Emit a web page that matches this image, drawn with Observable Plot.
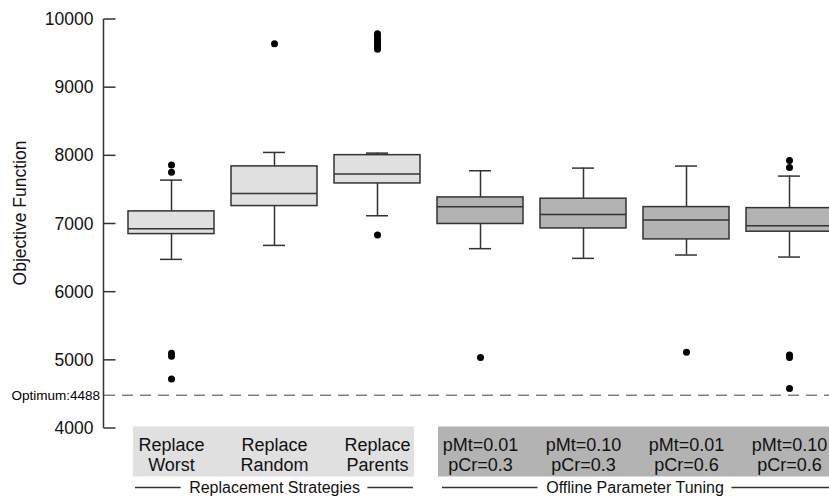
<!DOCTYPE html>
<html>
<head>
<meta charset="utf-8">
<script src="https://cdn.jsdelivr.net/npm/d3@7"></script>
<script src="https://cdn.jsdelivr.net/npm/@observablehq/plot@0.6"></script>
<style>
  html, body { margin: 0; padding: 0; background: #fff; }
</style>
</head>
<body>
<div id="chart"></div>
<script>
// ---- data ----
const categories = ["Replace\nWorst", "Replace\nRandom", "Replace\nParents",
  "pMt=0.01\npCr=0.3", "pMt=0.10\npCr=0.3", "pMt=0.01\npCr=0.6", "pMt=0.10\npCr=0.6"];
const groups = ["Replacement Strategies", "Replacement Strategies", "Replacement Strategies",
  "Offline Parameter Tuning", "Offline Parameter Tuning", "Offline Parameter Tuning", "Offline Parameter Tuning"];
const lowerWhisker = [6481, 6686, 7121, 6638, 6496, 6545, 6515];
const q1 = [6852, 7263, 7595, 7000, 6935, 6774, 6887];
const median = [6931, 7449, 7732, 7254, 7141, 7057, 6975];
const q3 = [7185, 7845, 8010, 7390, 7371, 7248, 7233];
const upperWhisker = [7644, 8050, 8040, 7781, 7820, 7850, 7703];
const outliers = [
  [7864, 7761, 5103, 5059, 4726],
  [9644],
  [9790, 9755, 9715, 9680, 9640, 9600, 9565, 6837],
  [5040],
  [],
  [5117],
  [7933, 7830, 5078, 5040, 4585]
];
const yTicks = [4000, 5000, 6000, 7000, 8000, 9000, 10000];
const optimum = 4488;
const optimumLabel = "Optimum:4488";
const yLabel = "Objective Function";

// ---- derived tables ----
const stats = categories.map((c, i) => ({
  name: c, group: groups[i], lo: lowerWhisker[i], q1: q1[i], med: median[i], q3: q3[i], hi: upperWhisker[i]
}));
const outlierRows = outliers.flatMap((vals, i) => vals.map(v => ({name: categories[i], value: v})));
const groupNames = Array.from(new Set(groups));

const FONT = "Liberation Sans, Arial, Helvetica, sans-serif";
const LIGHT = "#e0e0e0", DARK = "#b3b3b3", INK = "#333";
const groupFill = {"Replacement Strategies": LIGHT, "Offline Parameter Tuning": DARK};

const ns = "http://www.w3.org/2000/svg";
const measure = document.createElement("canvas").getContext("2d");

function bandwidthOf(x) { return typeof x.bandwidth === "function" ? x.bandwidth() : x.bandwidth; }

// strips behind category labels
function strips(index, scales) {
  const x = scales.x, y = scales.y, bw = bandwidthOf(x);
  const g = document.createElementNS(ns, "g");
  const y0 = y(yTicks[0]);
  groupNames.forEach((gr, k) => {
    const cats = categories.filter((c, i) => groups[i] === gr);
    const x1 = x(cats[0]) + (k === 0 ? 5 : 1);
    const x2 = x(cats[cats.length - 1]) + bw + (k === 0 ? -6 : 20);
    const r = document.createElementNS(ns, "rect");
    r.setAttribute("x", x1); r.setAttribute("width", x2 - x1);
    r.setAttribute("y", y0 - 1.5); r.setAttribute("height", 50);
    r.setAttribute("fill", groupFill[gr]);
    g.appendChild(r);
  });
  return g;
}

// axis line, ticks, group rules
function axisAndRules(index, scales, values, dimensions) {
  const x = scales.x, y = scales.y, bw = bandwidthOf(x);
  const g = document.createElementNS(ns, "g");
  g.setAttribute("stroke", INK);
  g.setAttribute("stroke-width", 1.5);
  g.setAttribute("fill", "none");
  const ax = dimensions.marginLeft - 0.5;
  const line = (x1, y1, x2, y2) => {
    const l = document.createElementNS(ns, "line");
    l.setAttribute("x1", x1); l.setAttribute("y1", y1);
    l.setAttribute("x2", x2); l.setAttribute("y2", y2);
    g.appendChild(l);
  };
  line(ax, y(yTicks[yTicks.length - 1]), ax, y(yTicks[0]));
  yTicks.forEach(t => line(ax, y(t), ax + 12, y(t)));
  // group rules
  measure.font = "16px " + FONT;
  const ly = y(yTicks[0]) + 59.5;
  groupNames.forEach((gr, k) => {
    const cats = categories.filter((c, i) => groups[i] === gr);
    const left = x(cats[0]) + (k === 0 ? 7 : 5);
    const right = x(cats[cats.length - 1]) + bw + (k === 0 ? -7 : 37);
    const mid = (x(cats[0]) + x(cats[cats.length - 1]) + bw) / 2;
    const half = measure.measureText(gr).width / 2 + 8;
    line(left, ly, mid - half, ly);
    line(mid + half, ly, right, ly);
  });
  return g;
}

const step = 103;
const chart = Plot.plot({
  width: 829,
  height: 496,
  marginLeft: 104,
  marginRight: 0,
  marginTop: 19,
  marginBottom: 68,
  style: {fontFamily: FONT, background: "#fff", color: "#000"},
  x: {type: "band", domain: categories, range: [171 - step / 2, 171 + step * 6.5], paddingInner: 0.165, paddingOuter: 0.0825, axis: null},
  y: {domain: [4000, 10000], axis: null},
  marks: [
    strips,
    Plot.ruleY([optimum], {stroke: "#808080", strokeWidth: 1.3, strokeDasharray: "11,7"}),
    Plot.text([optimumLabel], {y: () => optimum, frameAnchor: "left", textAnchor: "end", dx: -4.5, fontSize: 13.5, fill: "#000"}),
    Plot.ruleX(stats, {x: "name", y1: "hi", y2: "q3", stroke: INK, strokeWidth: 1.5}),
    Plot.ruleX(stats, {x: "name", y1: "lo", y2: "q1", stroke: INK, strokeWidth: 1.5}),
    Plot.tickY(stats, {x: "name", y: "hi", stroke: INK, strokeWidth: 1.5, insetLeft: 32, insetRight: 32}),
    Plot.tickY(stats, {x: "name", y: "lo", stroke: INK, strokeWidth: 1.5, insetLeft: 32, insetRight: 32}),
    Plot.barY(stats, {x: "name", y1: "q1", y2: "q3", fill: d => groupFill[d.group], stroke: INK, strokeWidth: 1.5}),
    Plot.tickY(stats, {x: "name", y: "med", stroke: INK, strokeWidth: 1.5}),
    Plot.dot(outlierRows, {x: "name", y: "value", r: 3.5, fill: "#000", stroke: "none"}),
    axisAndRules,
    Plot.axisY({ticks: yTicks, tickSize: 0, tickPadding: 11, fontSize: 17.5, label: null, tickFormat: d => String(d), fill: "#111"}),
    Plot.text([yLabel], {frameAnchor: "left", textAnchor: "middle", rotate: -90, dx: -84, dy: -11, fontSize: 17.5, fill: "#111"}),
    Plot.text(stats, {x: "name", y: () => yTicks[0], text: "name", lineAnchor: "top", dy: 7.5, fontSize: 18, lineHeight: 1.14, fill: "#111"}),
    Plot.text([groupNames[0]], {x: () => categories[1], y: () => yTicks[0], lineAnchor: "middle", dy: 59.5, fontSize: 16, fill: "#111"}),
    Plot.text([groupNames[1]], {x: () => categories[4], y: () => yTicks[0], lineAnchor: "middle", dx: step / 2, dy: 59.5, fontSize: 16, fill: "#111"})
  ]
});
document.getElementById("chart").appendChild(chart);
</script>
</body>
</html>
